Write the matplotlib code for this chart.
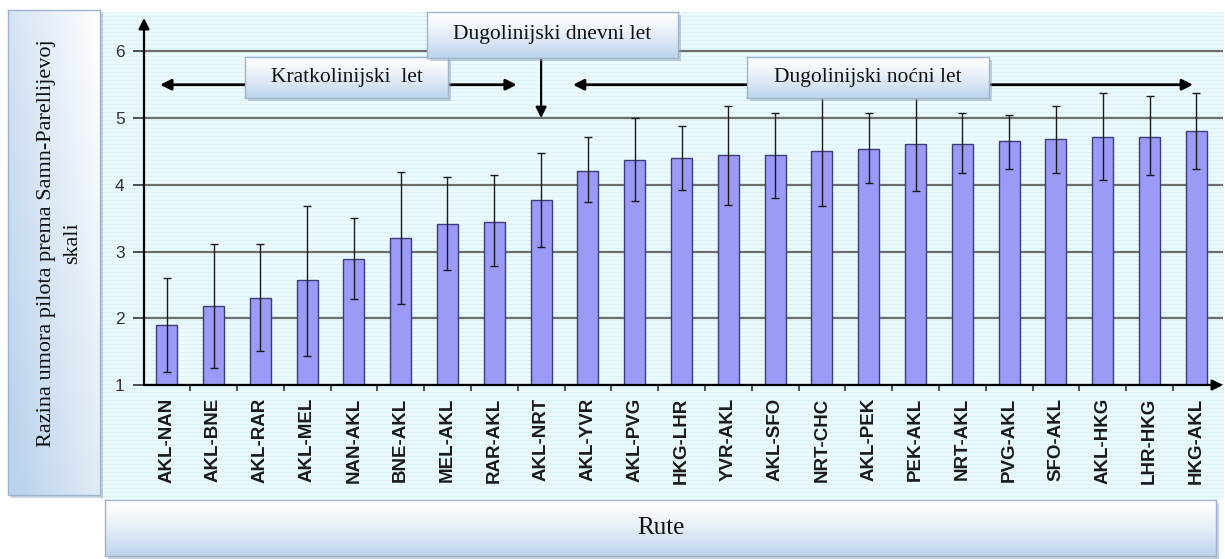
import numpy as np
import matplotlib
matplotlib.use("Agg")
import matplotlib.pyplot as plt
from matplotlib.patches import Rectangle

# ---------------- data ----------------
routes = ["AKL-NAN", "AKL-BNE", "AKL-RAR", "AKL-MEL", "NAN-AKL", "BNE-AKL",
          "MEL-AKL", "RAR-AKL", "AKL-NRT", "AKL-YVR", "AKL-PVG", "HKG-LHR",
          "YVR-AKL", "AKL-SFO", "NRT-CHC", "AKL-PEK", "PEK-AKL", "NRT-AKL",
          "PVG-AKL", "SFO-AKL", "AKL-HKG", "LHR-HKG", "HKG-AKL"]
fatigue = [1.90, 2.18, 2.31, 2.57, 2.89, 3.21, 3.42, 3.44, 3.77, 4.20, 4.37, 4.40,
           4.44, 4.44, 4.51, 4.54, 4.61, 4.61, 4.65, 4.68, 4.72, 4.72, 4.81]
err_low = [1.19, 1.26, 1.51, 1.44, 2.29, 2.22, 2.73, 2.79, 3.07, 3.74, 3.76, 3.92,
           3.70, 3.80, 3.69, 4.03, 3.90, 4.17, 4.23, 4.18, 4.07, 4.14, 4.23]
err_high = [2.60, 3.12, 3.12, 3.69, 3.51, 4.19, 4.11, 4.14, 4.47, 4.71, 5.00, 4.88,
            5.18, 5.07, 5.45, 5.07, 5.40, 5.07, 5.04, 5.18, 5.37, 5.33, 5.37]
yticks = [1, 2, 3, 4, 5, 6]
ylabel = "Razina umora pilota prema Samn-Parellijevoj\nskali"
xlabel = "Rute"
label_short = "Kratkolinijski  let"
label_day = "Dugolinijski dnevni let"
label_night = "Dugolinijski noćni let"

W, H = 1225, 559
fig = plt.figure(figsize=(W / 100, H / 100), dpi=100)
fig.patch.set_facecolor("white")

def frect(x0, y0, x1, y1):
    return [x0 / W, 1 - y1 / H, (x1 - x0) / W, (y1 - y0) / H]

# ---------------- striped background ----------------
bg = fig.add_axes(frect(100, 12, 1224, 500))
bg.set_zorder(0)
nrows = 488
arr = np.ones((nrows, 1, 3))
base = np.array([0.925, 0.982, 0.990])
stripe = np.array([0.860, 0.950, 0.965])
for i in range(nrows):
    arr[i, 0] = stripe if i % 4 == 0 else base
bg.imshow(arr, aspect="auto", interpolation="nearest", extent=(0, 1, 0, 1))
bg.set_axis_off()

# ---------------- main axes ----------------
spacing = 46.8
x0px = 166.7
ax = fig.add_axes(frect(144, 18, 1223, 385))
ax.set_zorder(1)
ax.set_facecolor("none")
xs = np.arange(len(routes))
ax.set_xlim((144 - x0px) / spacing, (1223 - x0px) / spacing)
ax.set_ylim(1, 6.5)
ax.set_axisbelow(True)
ax.yaxis.grid(True, color="#6e6e6e", lw=1.6)
for s in ax.spines.values():
    s.set_visible(False)

vals = np.array(fatigue)
lo = vals - np.array(err_low)
hi = np.array(err_high) - vals
ax.bar(xs, vals, width=0.45, color="#9b9bf7", edgecolor="#3c3c78", linewidth=1.0, zorder=2)
ax.errorbar(xs, vals, yerr=[lo, hi], fmt="none", ecolor="#1a1a1a", elinewidth=1.0,
            capsize=3.2, capthick=1.0, zorder=3)

ax.set_yticks(yticks)
ax.set_yticklabels([str(t) for t in yticks], fontsize=12.5, color="#333333",
                   family="Liberation Sans")
ax.tick_params(axis="y", direction="out", length=8, width=1.2, color="#333333", pad=6)
ax.set_xticks(xs)
ax.set_xticklabels(routes, rotation=90, fontsize=13.5, fontweight="bold",
                   family="Liberation Sans", color="#1a1a1a", va="top")
ax.set_xticks(xs[:-1] + 0.5, minor=True)
ax.tick_params(axis="x", which="major", length=0, pad=9)
ax.tick_params(axis="x", which="minor", direction="out", length=4, width=1.2, color="#333333")

# axis arrows
ax.annotate("", xy=(0, 1), xytext=(0, 0), xycoords="axes fraction",
            arrowprops=dict(arrowstyle="-|>", color="black", lw=1.6, mutation_scale=16,
                            shrinkA=0, shrinkB=0), annotation_clip=False)
ax.annotate("", xy=(1, 0), xytext=(0, 0), xycoords="axes fraction",
            arrowprops=dict(arrowstyle="-|>", color="black", lw=1.6, mutation_scale=16,
                            shrinkA=0, shrinkB=0), annotation_clip=False)

# category arrows
arr_kw = dict(arrowstyle="<|-|>", color="black", lw=2.0, mutation_scale=16, shrinkA=0, shrinkB=0)
ax.annotate("", xy=(-0.14, 5.5), xytext=(7.48, 5.5), arrowprops=arr_kw, annotation_clip=False)
ax.annotate("", xy=(8.68, 5.5), xytext=(21.93, 5.5), arrowprops=arr_kw, annotation_clip=False)
ax.annotate("", xy=(8.0, 5.0), xytext=(8.0, 5.95),
            arrowprops=dict(arrowstyle="-|>", color="black", lw=1.6, mutation_scale=16,
                            shrinkA=0, shrinkB=0), annotation_clip=False)

# ---------------- gradient boxes ----------------
def gbox(x0, y0, x1, y1, text, fs, mode="v", tx=None, ty=None, rot=0, ls=1.2, z=10):
    # soft shadow (separate axes under the box)
    sh = fig.add_axes(frect(x0 + 3, y0 + 3, x1 + 3, y1 + 3))
    sh.set_zorder(z - 0.5)
    sh.set_facecolor((0.55, 0.62, 0.70, 0.45))
    sh.set_xticks([]); sh.set_yticks([])
    for s in sh.spines.values():
        s.set_visible(False)
    b = fig.add_axes(frect(x0, y0, x1, y1))
    b.set_zorder(z)
    n = 100
    top = np.array([1.0, 1.0, 1.0])
    bot = np.array([0.74, 0.83, 0.93])
    if mode == "v":
        t = np.linspace(0, 1, n)[:, None] ** 1.3
        t = np.repeat(t, 2, axis=1)
    else:
        yy, xx = np.mgrid[0:1:n * 1j, 0:1:n * 1j]
        t = np.clip(0.65 * (1 - xx) + 0.45 * yy, 0, 1)
    img = top[None, None, :] * (1 - t[..., None]) + bot[None, None, :] * t[..., None]
    b.imshow(img, aspect="auto", interpolation="bilinear", extent=(0, 1, 0, 1))
    b.set_xticks([]); b.set_yticks([])
    for s in b.spines.values():
        s.set_color("#9fb4cc"); s.set_linewidth(1.0)
    cx = 0.5 if tx is None else tx
    cy = 0.5 if ty is None else ty
    b.text(cx, cy, text, transform=b.transAxes, ha="center", va="center",
           fontsize=fs, family="Liberation Serif", color="#111111", rotation=rot,
           multialignment="center", linespacing=ls)
    return b

gbox(8, 10, 100, 495, ylabel, 16, mode="d", tx=0.56, ty=0.52, rot=90, ls=1.45)
gbox(105, 500, 1216, 556, xlabel, 18)
gbox(245, 57, 448, 98, label_short, 15.5)
gbox(747, 57, 989, 98, label_night, 15.5)
gbox(427, 12, 678, 58, label_day, 15.5, z=11)

fig.savefig("out.png", dpi=100)
